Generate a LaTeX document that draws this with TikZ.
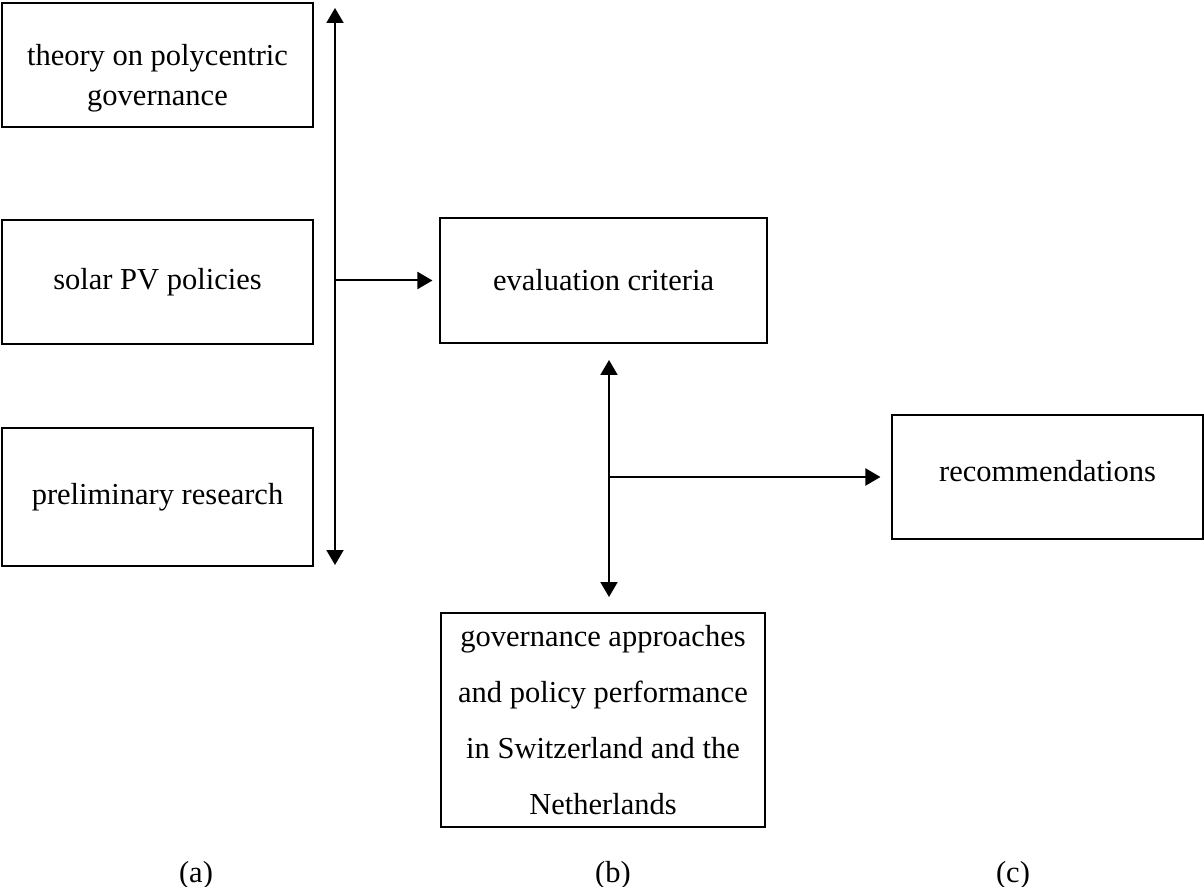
\documentclass[tikz,border=0pt]{standalone}
\usepackage{fontspec}
\setmainfont{Liberation Serif}
\usetikzlibrary{arrows.meta}
\tikzset{
  stage/.style={draw, line width=0.55pt, align=center, inner sep=0pt, font=\fontsize{15.25}{20}\selectfont},
  tag/.style={inner sep=0pt, font=\fontsize{15.25}{19}\selectfont},
  link/.style={line width=1pt, -{Triangle[length=7.5pt,width=8.5pt]}},
  twolink/.style={line width=1pt, {Triangle[length=7.5pt,width=8.5pt]}-{Triangle[length=7.5pt,width=8.5pt]}},
}
\begin{document}
\begin{tikzpicture}[x=0.5pt,y=-0.5pt]
\useasboundingbox (0,0) rectangle (1204,887);
% inputs
\node[stage, minimum width=155.5pt, minimum height=62pt] (theory) at (157.5,65) {\rule{0pt}{23.5pt}theory on polycentric\\governance};
\node[stage, minimum width=155.5pt, minimum height=62pt] (solar) at (157.5,282) {solar PV policies};
\node[stage, minimum width=155.5pt, minimum height=69pt] (prelim) at (157.5,497) {preliminary research};
% analysis
\node[stage, minimum width=163.5pt, minimum height=62.5pt] (evalc) at (603.5,280.5) {evaluation criteria};
\node[stage, minimum width=162pt, minimum height=107pt, font=\fontsize{15.25}{28}\selectfont] (govern) at (603,720) {governance approaches\\and policy performance\\in Switzerland and the\\Netherlands};
\node[stage, minimum width=155.5pt, minimum height=62pt, text depth=6pt] (recom) at (1047.5,477) {recommendations};
% connectors
\coordinate (bartop) at (335,8);
\coordinate (barbot) at (335,565);
\coordinate (midtop) at (609,360);
\coordinate (midbot) at (609,597);
\draw[twolink] (bartop) -- (barbot);
\draw[link, shorten >=3.5pt] (bartop |- evalc.west) -- (evalc.west);
\draw[twolink] (midtop) -- (midbot);
\draw[link, shorten >=5.5pt] (midtop |- recom.west) -- (recom.west);
% column tags
\node[tag] (taga) at (196,875) {(a)};
\node[tag] (tagb) at (613,875) {(b)};
\node[tag] (tagc) at (1013,875) {(c)};
\end{tikzpicture}
\end{document}
